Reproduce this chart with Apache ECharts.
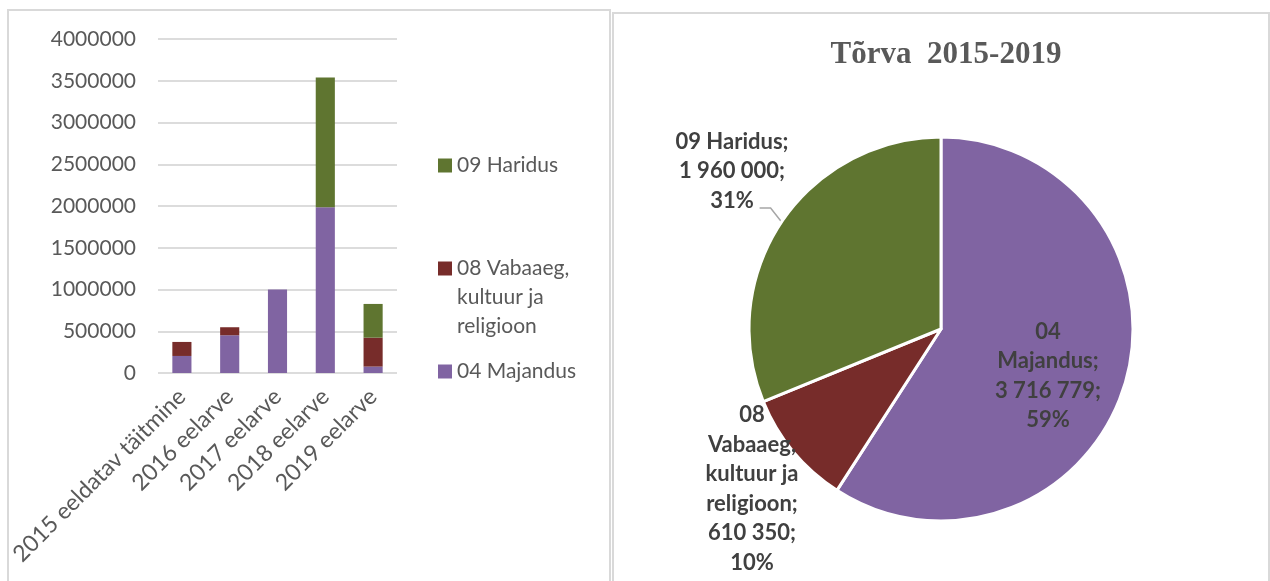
<!DOCTYPE html>
<html lang="et">
<head>
    <meta charset="UTF-8">
    <title>Tõrva 2015-2019</title>
    <script src="https://cdn.jsdelivr.net/npm/echarts@6/dist/echarts.min.js"></script>
    <style>
        html, body { margin: 0; padding: 0; background: #fff; }
        #charts { width: 1270px; height: 581px; }
    </style>
</head>
<body>
<div id="charts"></div>
<script>
    // andmed
    var years = ['2015 eeldatav täitmine', '2016 eelarve', '2017 eelarve', '2018 eelarve', '2019 eelarve'];
    var majandus = [204000, 452000, 1000000, 1984000, 76779];
    var vabaaeg = [168000, 96000, 0, 0, 346350];
    var haridus = [0, 0, 0, 1556000, 404000];
    var seriesNames = ['04 Majandus', '08 Vabaaeg, kultuur ja religioon', '09 Haridus'];
    var pieValues = [3716779, 610350, 1960000];
    var pieLabelNames = ['04\nMajandus', '08\nVabaaeg,\nkultuur ja\nreligioon', '09 Haridus'];
    var yTicks = { min: 0, max: 4000000, interval: 500000 };

    var colors = ['#8064a2', '#772c2a', '#5f7530'];
    var textGrey = '#595959';
    var font = 'Lato';

    // pie label kohad (px)
    var pieLabelPos = [
        {x: 1048, y: 376},
        {x: 752, y: 489},
        {x: 732, y: 171}
    ];

    function fmt(v) {
        return String(v).replace(/\B(?=(\d{3})+(?!\d))/g, ' ');
    }

    var myChart = echarts.init(document.getElementById('charts'));

    var option = {
        animation: false,
        title: {
            text: 'Tõrva  2015-2019',
            left: 941,
            top: 34,
            textAlign: 'center',
            textStyle: {
                fontFamily: 'Liberation Serif',
                fontWeight: 'bold',
                fontSize: 31,
                color: textGrey
            }
        },
        graphic: [
            {type: 'rect', shape: {x: 8, y: 10, width: 602, height: 620}, style: {fill: 'none', stroke: '#d9d9d9', lineWidth: 2}, z: -1},
            {type: 'rect', shape: {x: 613, y: 13, width: 656, height: 620}, style: {fill: 'none', stroke: '#d9d9d9', lineWidth: 2}, z: -1}
        ],
        legend: {
            orient: 'vertical',
            left: 438,
            top: 151,
            itemWidth: 14,
            itemHeight: 14,
            itemGap: 16,
            padding: 0,
            icon: 'rect',
            data: [seriesNames[2], seriesNames[1], seriesNames[0]],
            formatter: function (name) {
                if (name === seriesNames[1]) return '\n\n08 Vabaaeg,\nkultuur ja\nreligioon';
                return name;
            },
            textStyle: {fontFamily: font, fontSize: 21, lineHeight: 29, color: textGrey}
        },
        grid: {left: 158, top: 39, width: 239, height: 334, containLabel: false},
        xAxis: {
            type: 'category',
            data: years,
            axisLine: {show: false},
            axisTick: {show: false},
            axisLabel: {rotate: 45, margin: 20, fontFamily: font, fontSize: 23, color: textGrey, interval: 0}
        },
        yAxis: {
            type: 'value',
            min: yTicks.min,
            max: yTicks.max,
            interval: yTicks.interval,
            axisLabel: {
                margin: 22,
                fontFamily: font,
                fontSize: 21,
                color: textGrey,
                formatter: function (v) { return String(v); }
            },
            splitLine: {lineStyle: {color: '#dcdcdc', width: 2}}
        },
        series: [
            {name: seriesNames[0], type: 'bar', stack: 'a', data: majandus, barWidth: '40%', itemStyle: {color: colors[0]}},
            {name: seriesNames[1], type: 'bar', stack: 'a', data: vabaaeg, barWidth: '40%', itemStyle: {color: colors[1]}},
            {name: seriesNames[2], type: 'bar', stack: 'a', data: haridus, barWidth: '40%', itemStyle: {color: colors[2]}},
            {
                type: 'pie',
                center: [941, 329],
                radius: 192,
                startAngle: 90,
                clockwise: true,
                legendHoverLink: false,
                itemStyle: {borderColor: '#fff', borderWidth: 3},
                data: pieValues.map(function (v, i) {
                    return {value: v, name: pieLabelNames[i], itemStyle: {color: colors[i]}};
                }),
                label: {
                    show: true,
                    position: 'outside',
                    formatter: function (p) {
                        return p.name + ';\n' + fmt(p.value) + ';\n' + Math.round(p.percent) + '%';
                    },
                    fontFamily: font,
                    fontWeight: 'bold',
                    fontSize: 22,
                    lineHeight: 29.5,
                    color: '#404040',
                    align: 'center'
                },
                labelLine: {show: true, length: 8, length2: 10, lineStyle: {color: '#a6a6a6', width: 1.5}},
                labelLayout: function (params) {
                    var p = pieLabelPos[params.dataIndex];
                    var res = {x: p.x, y: p.y, align: 'center', verticalAlign: 'middle'};
                    var pts = params.labelLinePoints;
                    if (pts && params.dataIndex === 2) {
                        var e = pts[0];
                        res.labelLinePoints = [[e[0], e[1]], [e[0] - 11, e[1] - 14], [e[0] - 22, e[1] - 14]];
                    }
                    return res;
                }
            }
        ]
    };
    // ainult haridus saab joone
    option.series[3].data[0].labelLine = {show: false};
    option.series[3].data[1].labelLine = {show: false};

    myChart.setOption(option, true);
</script>
</body>
</html>
